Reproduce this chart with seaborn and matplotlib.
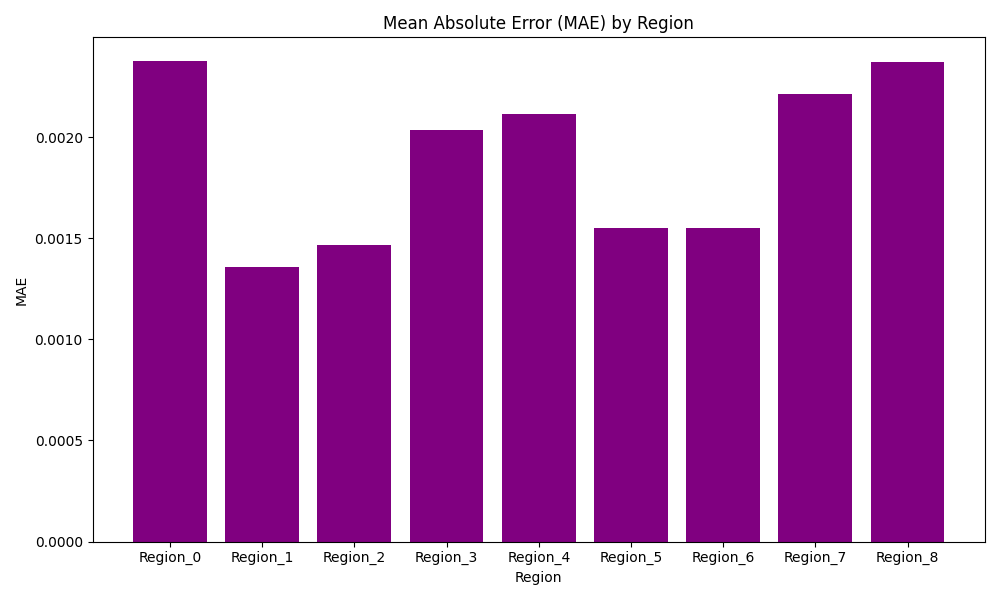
import matplotlib
matplotlib.use("Agg")
import matplotlib.pyplot as plt
import seaborn as sns
import pandas as pd

regions = [f"Region_{i}" for i in range(9)]
mae = [0.002375, 0.001358, 0.001467, 0.002035, 0.002114,
       0.001551, 0.001551, 0.002212, 0.002370]

df = pd.DataFrame({"Region": regions, "MAE": mae})

fig, ax = plt.subplots(figsize=(10, 6), dpi=100)
sns.barplot(data=df, x="Region", y="MAE", color="purple", saturation=1,
            width=0.8, ax=ax)
# matplotlib default 5% margins around the bars
span = len(regions) - 1 + 0.8
ax.set_xlim(-0.4 - 0.05 * span, len(regions) - 1 + 0.4 + 0.05 * span)
ax.set_title("Mean Absolute Error (MAE) by Region")
ax.set_xlabel("Region")
ax.set_ylabel("MAE")
plt.tight_layout()
fig.savefig("out.png")
